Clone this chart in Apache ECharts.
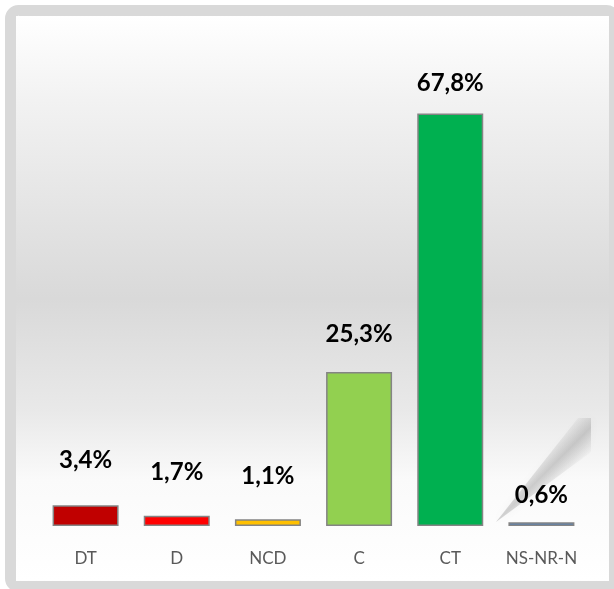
<!DOCTYPE html>
<html>
<head>
<meta charset="utf-8">
<script src="https://cdn.jsdelivr.net/npm/echarts@6/dist/echarts.min.js"></script>
<style>
html, body { margin: 0; padding: 0; background: #fff; }
#main { width: 614px; height: 589px; }
</style>
</head>
<body>
<div id="main"></div>
<script>
var categories = ['DT', 'D', 'NCD', 'C', 'CT', 'NS-NR-N'];
var values = [3.4, 1.7, 1.1, 25.3, 67.8, 0.6];
var barColors = ['#c00000', '#ff0000', '#ffc000', '#92d050', '#00b050', '#4f81bd'];
// label offsets above each bar, as placed in the original
var labelGap = [33, 31, 31, 26, 18, 15];

var chart = echarts.init(document.getElementById('main'));

// soft diagonal shadow in the lower right corner
var shadowFill = new echarts.graphic.LinearGradient(530, 460, 558, 488, [
    { offset: 0, color: 'rgba(160,160,160,0)' },
    { offset: 0.5, color: 'rgba(150,150,150,0.42)' },
    { offset: 1, color: 'rgba(160,160,160,0)' }
], true);

var option = {
    backgroundColor: '#fff',
    animation: false,
    graphic: [
        {
            type: 'rect',
            z: -10,
            shape: { x: 10.5, y: 10.5, width: 604, height: 576, r: 8 },
            style: { fill: 'none', stroke: '#d9d9d9', lineWidth: 11 }
        },
        {
            type: 'rect',
            z: -9,
            shape: { x: 16, y: 16, width: 593, height: 565 },
            style: {
                fill: new echarts.graphic.LinearGradient(0, 0, 0, 1, [
                    { offset: 0, color: '#ffffff' },
                    { offset: 0.15, color: '#f2f2f2' },
                    { offset: 0.5, color: '#d9d9d9' },
                    { offset: 0.7, color: '#e9e9e9' },
                    { offset: 0.82, color: '#fafafa' },
                    { offset: 1, color: '#ffffff' }
                ])
            }
        },
        {
            type: 'polygon',
            z: -8,
            shape: { points: [[496, 522], [578, 418], [591, 418], [591, 452]] },
            style: {
                fill: shadowFill,
                shadowBlur: 8,
                shadowColor: 'rgba(160,160,160,0.25)'
            }
        }
    ],
    grid: {
        left: 40,
        right: 27,
        top: 100,
        bottom: 63
    },
    xAxis: {
        type: 'category',
        data: categories,
        axisLine: { show: false },
        axisTick: { show: false },
        axisLabel: {
            interval: 0,
            margin: 24,
            fontFamily: 'Lato',
            fontSize: 17,
            color: '#595959'
        }
    },
    yAxis: {
        type: 'value',
        min: 0,
        max: 70,
        show: false,
        splitLine: { show: false }
    },
    series: [{
        type: 'bar',
        barWidth: 66,
        data: values.map(function (v, i) {
            return {
                value: v,
                itemStyle: { color: barColors[i] },
                label: { distance: labelGap[i] }
            };
        }),
        itemStyle: {
            borderColor: '#848484',
            borderWidth: 1.5
        },
        label: {
            show: true,
            position: 'top',
            fontFamily: 'Lato',
            fontWeight: 'bold',
            fontSize: 24,
            color: '#000',
            formatter: function (p) {
                return p.value.toFixed(1).replace('.', ',') + '%';
            }
        }
    }]
};

chart.setOption(option);
</script>
</body>
</html>
